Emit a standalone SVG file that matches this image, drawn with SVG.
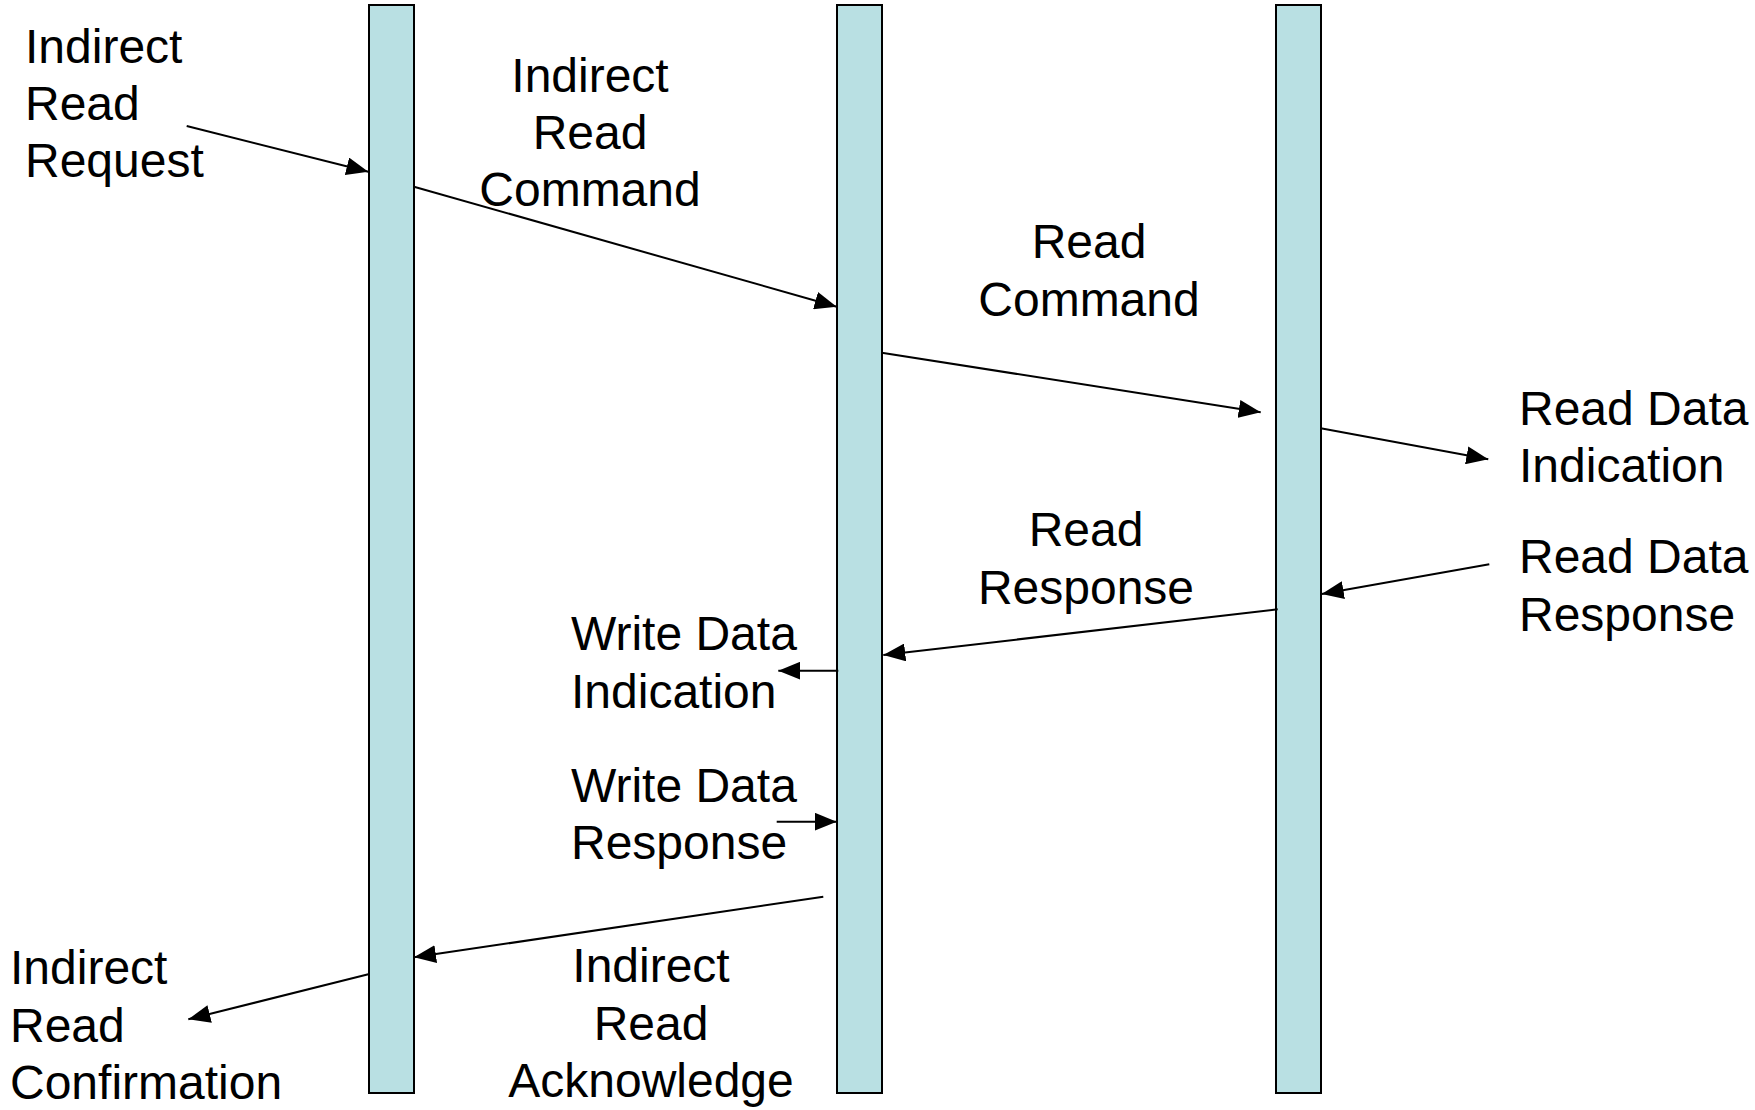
<svg xmlns="http://www.w3.org/2000/svg" width="1755" height="1110" viewBox="0 0 1755 1110">
<style>
.bar{fill:#B9E0E3;stroke:#000;stroke-width:2}
.lbl{font-family:"Liberation Sans",Arial,sans-serif;font-size:48px;fill:#000}
.mid{text-anchor:middle}
.conn{stroke:#000;stroke-width:2;fill:none;marker-end:url(#arr)}
</style>
<defs>
<marker id="arr" markerWidth="22" markerHeight="18" refX="22" refY="9" orient="auto" markerUnits="userSpaceOnUse">
<path d="M0,0 L22,9 L0,18 z" fill="#000"/>
</marker>
</defs>
<rect width="1755" height="1110" fill="#fff"/>
<g id="lifeline-1"><rect class="bar" x="369" y="5" width="45" height="1088"/></g>
<g id="lifeline-2"><rect class="bar" x="837" y="5" width="45" height="1088"/></g>
<g id="lifeline-3"><rect class="bar" x="1276" y="5" width="45" height="1088"/></g>
<g id="connectors">
<line class="conn" x1="186.7" y1="126" x2="368.3" y2="171.7"/>
<line class="conn" x1="414" y1="186.7" x2="836.7" y2="306.7"/>
<line class="conn" x1="881.7" y1="352.7" x2="1260.7" y2="412.3"/>
<line class="conn" x1="1320.7" y1="428.3" x2="1488.3" y2="459.3"/>
<line class="conn" x1="1489.3" y1="564.3" x2="1321.7" y2="594"/>
<line class="conn" x1="1277.7" y1="609.3" x2="883.3" y2="655"/>
<line class="conn" x1="838.3" y1="670.7" x2="778.3" y2="670.7"/>
<line class="conn" x1="776.7" y1="821.7" x2="836.7" y2="821.7"/>
<line class="conn" x1="823.3" y1="896.7" x2="414" y2="957.3"/>
<line class="conn" x1="368.3" y1="974.3" x2="188.3" y2="1019.3"/>
</g>
<g id="label-indirect-read-request"><text class="lbl" x="25" y="62.7">Indirect</text><text class="lbl" x="25" y="119.5">Read</text><text class="lbl" x="25" y="176.5">Request</text></g>
<g id="label-indirect-read-command"><text class="lbl mid" x="590" y="92.3">Indirect</text><text class="lbl mid" x="590" y="149.3">Read</text><text class="lbl mid" x="590" y="206">Command</text></g>
<g id="label-read-command"><text class="lbl mid" x="1089" y="258.3">Read</text><text class="lbl mid" x="1089" y="316">Command</text></g>
<g id="label-read-data-indication"><text class="lbl" x="1519" y="425">Read Data</text><text class="lbl" x="1519" y="482.3">Indication</text></g>
<g id="label-read-data-response"><text class="lbl" x="1519" y="573.3">Read Data</text><text class="lbl" x="1519" y="630.5">Response</text></g>
<g id="label-read-response"><text class="lbl mid" x="1086" y="546">Read</text><text class="lbl mid" x="1086" y="603.5">Response</text></g>
<g id="label-write-data-indication"><text class="lbl" x="571" y="650">Write Data</text><text class="lbl" x="571" y="708">Indication</text></g>
<g id="label-write-data-response"><text class="lbl" x="571" y="801.7">Write Data</text><text class="lbl" x="571" y="858.5">Response</text></g>
<g id="label-indirect-read-acknowledge"><text class="lbl mid" x="651" y="982">Indirect</text><text class="lbl mid" x="651" y="1039.5">Read</text><text class="lbl mid" x="651" y="1097">Acknowledge</text></g>
<g id="label-indirect-read-confirmation"><text class="lbl" x="10" y="984">Indirect</text><text class="lbl" x="10" y="1041.5">Read</text><text class="lbl" x="10" y="1099">Confirmation</text></g>
</svg>
